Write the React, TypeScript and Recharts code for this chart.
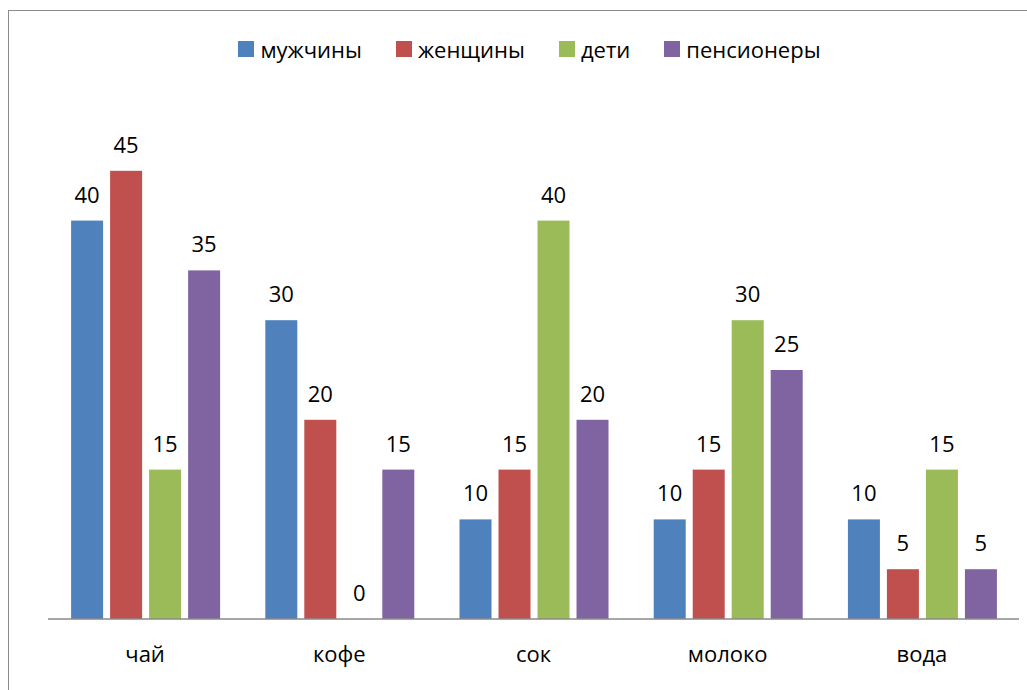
import { BarChart, Bar, XAxis, YAxis, Legend, LabelList } from 'recharts'

const categories = ['чай', 'кофе', 'сок', 'молоко', 'вода']
const men = [40, 30, 10, 10, 10]
const women = [45, 20, 15, 15, 5]
const children = [15, 0, 40, 30, 15]
const pensioners = [35, 15, 20, 25, 5]

const SERIES = [
  { key: 'men', name: 'мужчины', color: '#4F81BD', values: men },
  { key: 'women', name: 'женщины', color: '#C0504D', values: women },
  { key: 'children', name: 'дети', color: '#9BBB59', values: children },
  { key: 'pensioners', name: 'пенсионеры', color: '#8064A2', values: pensioners },
]

const FONT = '"Open Sans", sans-serif'

const data = categories.map((name, i) => {
  const row: Record<string, string | number> = { name }
  for (const s of SERIES) row[s.key] = s.values[i]
  return row
})

function LegendContent() {
  return (
    <div style={{ display: 'flex', justifyContent: 'center', alignItems: 'center', paddingRight: 8, height: 24 }}>
      {SERIES.map((s, i) => (
        <div
          key={s.key}
          style={{
            display: 'flex',
            alignItems: 'center',
            marginRight: i < SERIES.length - 1 ? 34 : 0,
          }}
        >
          <span style={{ width: 16, height: 16, background: s.color, marginRight: 6, display: 'inline-block' }} />
          <span style={{ fontFamily: FONT, fontSize: 22, color: '#000', lineHeight: '24px' }}>{s.name}</span>
        </div>
      ))}
    </div>
  )
}

// zero values get a 1px bar (minPointSize) so the label is still there; hide that bar
function BarShape(props: any) {
  const { x, y, width, height, fill, value } = props
  const v = Array.isArray(value) ? value[1] - value[0] : value
  if (!v) return null
  return <rect x={x} y={y} width={width} height={height} fill={fill} />
}

function BarLabel(props: any) {
  const { x, y, width, height, value } = props
  const top = value === 0 ? Number(y) + Number(height) : Number(y)
  return (
    <text
      x={Number(x) + Number(width) / 2}
      y={top - 18}
      textAnchor="middle"
      fontFamily={FONT}
      fontSize={22}
      fill="#000"
    >
      {value}
    </text>
  )
}

export default function App() {
  return (
    <div
      style={{
        position: 'absolute',
        left: 8,
        top: 10,
        width: 1030,
        height: 700,
        border: '1px solid #8c8c8c',
        background: '#fff',
      }}
    >
      <BarChart
        width={1030}
        height={690}
        data={data}
        margin={{ top: 86, right: 20, left: 39, bottom: 42 }}
        barCategoryGap="11.9%"
        barGap={7}
      >
        <XAxis
          dataKey="name"
          height={40}
          tickLine={false}
          tickMargin={21}
          axisLine={{ stroke: '#8a8a8a', strokeWidth: 1.5 }}
          tick={{ fontFamily: FONT, fontSize: 22, fill: '#000' }}
        />
        <YAxis hide domain={[0, 50]} />
        <Legend
          verticalAlign="top"
          height={24}
          content={() => <LegendContent />}
          wrapperStyle={{ top: 26, left: 39, width: 971 }}
        />
        {SERIES.map(s => (
          <Bar
            key={s.key}
            dataKey={s.key}
            name={s.name}
            fill={s.color}
            minPointSize={1}
            shape={BarShape}
            isAnimationActive={false}
          >
            <LabelList dataKey={s.key} content={BarLabel} />
          </Bar>
        ))}
      </BarChart>
    </div>
  )
}
